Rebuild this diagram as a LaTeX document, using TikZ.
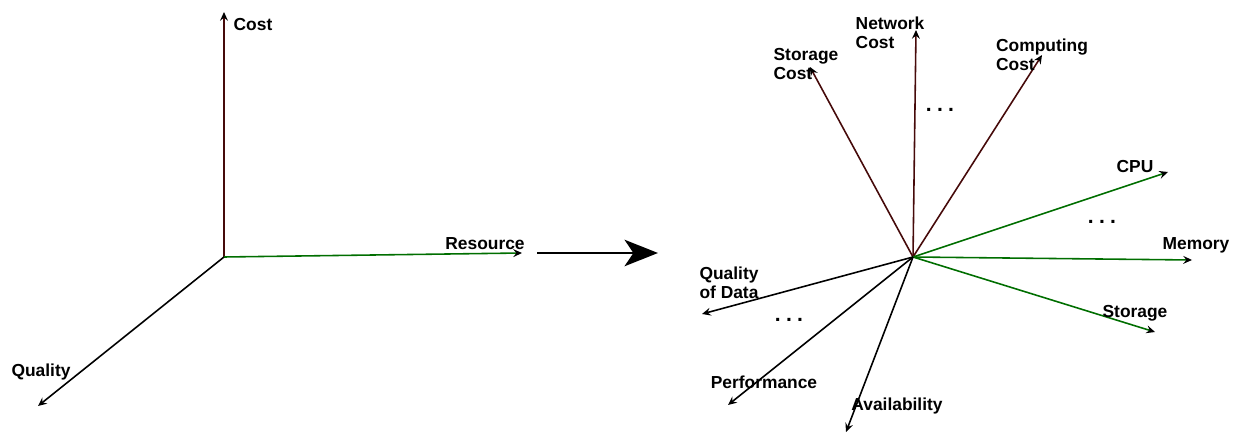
\documentclass[tikz,border=0pt]{standalone}
\usepackage{fontspec}
\setmainfont{Liberation Sans}
\usetikzlibrary{arrows.meta}
\definecolor{costred}{RGB}{70,10,10}
\definecolor{resgreen}{RGB}{0,110,0}
\tikzset{
  axis/.style={line width=0.9pt, -{Stealth[length=5pt,width=4.5pt,inset=1.8pt,black]}},
  costaxis/.style={axis, draw=costred},
  resaxis/.style={axis, draw=resgreen},
  qualaxis/.style={axis, draw=black},
  lbl/.style={font=\fontsize{9.9}{11}\selectfont\bfseries, align=left, inner sep=0pt},
  dots/.style={font=\fontsize{12}{12}\selectfont\bfseries, inner sep=0pt}
}
\begin{document}
\begin{tikzpicture}[x=0.02cm, y=-0.02cm]
\useasboundingbox (0,0) rectangle (1233,435);

% Left: three axes
\coordinate (o1) at (224,257);
\coordinate (cost) at (224,12);
\coordinate (resource) at (522,253);
\coordinate (quality) at (38,406);
\draw[costaxis] (o1) -- (cost);
\draw[resaxis] (o1) -- (resource);
\draw[qualaxis] (o1) -- (quality);
\node[lbl] (costlbl) at (253,25) {Cost};
\node[lbl] (reslbl) at (485,244) {Resource};
\node[lbl] (quallbl) at (41,372) {Quality};

% Big arrow between the two parts
\coordinate (from) at (537,253);
\coordinate (to) at (658,253);
\draw[line width=1.7pt, -{Stealth[length=19pt,width=15pt,inset=5pt]}] (from) -- (to);

% Right: many axes
\coordinate (o2) at (913,257);
\coordinate (netcost) at (916,30);
\coordinate (stocost) at (810,67);
\coordinate (compcost) at (1042,55);
\coordinate (cpu) at (1168,172);
\coordinate (memory) at (1192,260);
\coordinate (storage) at (1155,332);
\coordinate (qdata) at (702,314);
\coordinate (perf) at (728,405);
\coordinate (avail) at (846,432);

\draw[costaxis] (o2) -- (netcost);
\draw[costaxis] (o2) -- (stocost);
\draw[costaxis] (o2) -- (compcost);
\draw[resaxis] (o2) -- (cpu);
\draw[resaxis] (o2) -- (memory);
\draw[resaxis] (o2) -- (storage);
\draw[qualaxis] (o2) -- (qdata);
\draw[qualaxis] (o2) -- (perf);
\draw[qualaxis] (o2) -- (avail);

\node[lbl] (netlbl) at (890,33) {Network\\Cost};
\node[lbl] (stolbl) at (806,64) {Storage\\Cost};
\node[lbl] (complbl) at (1042,55) {Computing\\Cost};
\node[lbl] (cpulbl) at (1135,167) {CPU};
\node[lbl] (memlbl) at (1196,245) {Memory};
\node[lbl] (storlbl) at (1135,313) {Storage};
\node[lbl] (qdlbl) at (729,283) {Quality\\of Data};
\node[lbl] (perflbl) at (764,382) {Performance};
\node[lbl] (availlbl) at (897,406) {Availability};

\node[dots] (dots1) at (940,110) {.\hspace{0.25em}.\hspace{0.25em}.};
\node[dots] (dots2) at (1102,222) {.\hspace{0.25em}.\hspace{0.25em}.};
\node[dots] (dots3) at (789,320) {.\hspace{0.25em}.\hspace{0.25em}.};
\end{tikzpicture}
\end{document}
